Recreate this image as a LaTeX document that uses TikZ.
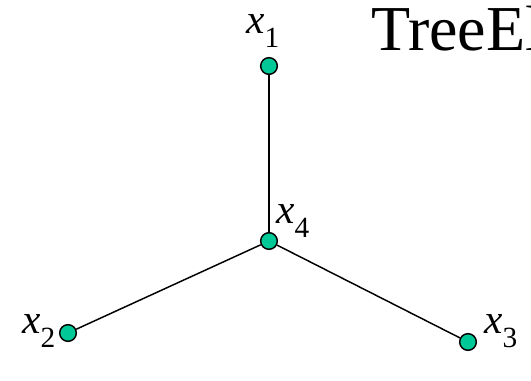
\documentclass[tikz,border=0pt]{standalone}
\usepackage{fontspec}
\setmainfont{Liberation Serif}
\usepackage{xcolor}
\usepackage{tikz}
\usetikzlibrary{positioning}

\definecolor{dotgreen}{RGB}{0,200,150}
\newcommand{\vx}[1]{\textit{x}\raisebox{-0.36em}{\fontsize{22}{22}\selectfont #1}}

\tikzset{
  dot/.style={draw, circle, fill=dotgreen, line width=1.1pt, minimum size=12.5pt, inner sep=0pt},
  lbl/.style={anchor=base west, inner sep=0pt, font=\fontsize{31}{34}\selectfont},
  edge/.style={line width=1.1pt}
}

\begin{document}
\begin{tikzpicture}[x=0.75pt, y=-0.75pt]
\useasboundingbox (0,0) rectangle (531,380);
\clip (0,0) rectangle (531,380);

% Title (cut at the right edge)
\node[anchor=base west, inner sep=0pt, font=\fontsize{48}{52}\selectfont] (title) at (371,50) {TreeEl};

% Vertices
\node[dot] (x1) at (269,66) {};
\node[dot] (x4) at (269,241) {};
\node[dot] (x2) at (68,333) {};
\node[dot] (x3) at (468,342) {};

% Labels
\node[lbl] (l1) at (246,33) {\vx{1}};
\node[lbl] (l4) at (276,223) {\vx{4}};
\node[lbl] (l2) at (22,333) {\vx{2}};
\node[lbl] (l3) at (484,333) {\vx{3}};

% Edges
\draw[edge] (x1) -- (x4);
\draw[edge] (x4) -- (x2);
\draw[edge] (x4) -- (x3);
\end{tikzpicture}
\end{document}
